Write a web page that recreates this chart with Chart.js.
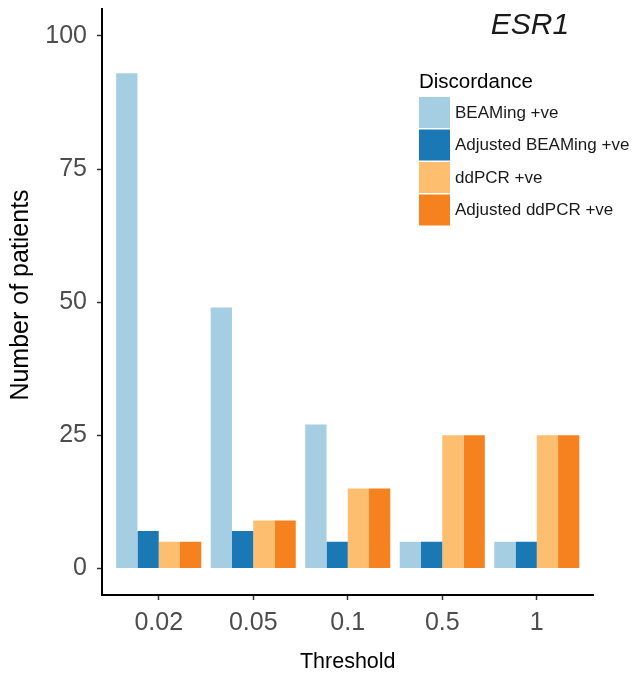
<!DOCTYPE html>
<html>
<head>
<meta charset="utf-8">
<title>ESR1 discordance</title>
<script src="https://cdn.jsdelivr.net/npm/chart.js@4.4.0/dist/chart.umd.min.js"></script>
<style>
  html, body { margin: 0; padding: 0; background: #fff; }
  #wrap { width: 633px; height: 675px; position: relative; }
</style>
</head>
<body>
<div id="wrap"><canvas id="esrChart"></canvas></div>
<script>
// values
const thresholds = ['0.02', '0.05', '0.1', '0.5', '1'];
const beamingPos = [93, 49, 27, 5, 5];
const adjBeamingPos = [7, 7, 5, 5, 5];
const ddpcrPos = [5, 9, 15, 25, 25];
const adjDdpcrPos = [5, 9, 15, 25, 25];
const seriesNames = ['BEAMing +ve', 'Adjusted BEAMing +ve', 'ddPCR +ve', 'Adjusted ddPCR +ve'];
const seriesColors = ['#a6cee3', '#1a78b4', '#fdbf6f', '#f5821f'];
const yTicks = [0, 25, 50, 75, 100];

const FONT = '"Liberation Sans", Arial, Helvetica, sans-serif';

// ggplot-style legend (title on top, boxes stacked), gene label and y title
const legendPlugin = {
  id: 'discordanceLegend',
  afterDraw(chart) {
    const ctx = chart.ctx;
    ctx.save();
    ctx.fillStyle = '#1a1a1a';
    ctx.font = `italic 30px ${FONT}`;
    ctx.textAlign = 'center';
    ctx.textBaseline = 'alphabetic';
    ctx.fillText('ESR1', 530, 34);

    // y axis title sits a bit above the panel centre in the original
    ctx.save();
    ctx.translate(21, 295);
    ctx.rotate(-Math.PI / 2);
    ctx.fillStyle = '#000';
    ctx.font = `25px ${FONT}`;
    ctx.textBaseline = 'middle';
    ctx.fillText('Number of patients', 0, 0);
    ctx.restore();

    ctx.fillStyle = '#000';
    ctx.font = `20.5px ${FONT}`;
    ctx.textAlign = 'left';
    ctx.fillText('Discordance', 419, 87.5);

    ctx.font = `17px ${FONT}`;
    ctx.textBaseline = 'middle';
    chart.data.datasets.forEach((ds, i) => {
      const y = 97 + i * 32.5;
      ctx.fillStyle = ds.backgroundColor;
      ctx.fillRect(419, y, 31, 31);
      ctx.fillStyle = '#1a1a1a';
      ctx.fillText(ds.label, 455, y + 16);
    });
    ctx.restore();
  }
};

const seriesValues = [beamingPos, adjBeamingPos, ddpcrPos, adjDdpcrPos];
const datasets = seriesValues.map((vals, i) => ({
  label: seriesNames[i],
  data: vals.map((v, j) => ({ x: j + 1, y: v })),
  backgroundColor: seriesColors[i],
  borderWidth: 0,
  categoryPercentage: 0.9,
  barPercentage: 1.0
}));

new Chart(document.getElementById('esrChart'), {
  type: 'bar',
  data: { datasets },
  options: {
    responsive: true, maintainAspectRatio: false,
    animation: false,
    devicePixelRatio: 1,
    layout: { padding: { left: 0, right: 39.5, top: 9.3, bottom: 0 } },
    plugins: { legend: { display: false }, tooltip: { enabled: false } },
    scales: {
      x: {
        type: 'linear', min: 0.4, max: 5.6, offset: false,
        afterBuildTicks: s => { s.ticks = thresholds.map((t, i) => ({ value: i + 1 })); },
        afterFit: s => { s.height = 80; s.paddingLeft = 0; s.paddingRight = 0; },
        ticks: {
          callback: v => thresholds[Math.round(v) - 1],
          font: { family: FONT, size: 25 }, color: '#4d4d4d',
          padding: 8, maxRotation: 0, autoSkip: false
        },
        grid: { offset: false, drawOnChartArea: false, drawTicks: true, tickLength: 5, tickColor: '#333', tickWidth: 1.5 },
        border: { display: true, color: '#000', width: 2 },
        title: { display: true, text: 'Threshold', font: { family: FONT, size: 21.5 }, color: '#000', padding: { top: 0, bottom: 0 } }
      },
      y: {
        min: -5, max: 105,
        afterBuildTicks: s => { s.ticks = yTicks.map(v => ({ value: v })); },
        afterFit: s => { s.width = 102; s.paddingTop = 0; s.paddingBottom = 0; },
        ticks: { font: { family: FONT, size: 25 }, color: '#4d4d4d', padding: 10 },
        grid: { drawOnChartArea: false, drawTicks: true, tickLength: 5, tickColor: '#333', tickWidth: 1.5 },
        border: { display: true, color: '#000', width: 2 },
        title: { display: false }
      }
    }
  },
  plugins: [legendPlugin]
});
</script>
</body>
</html>
